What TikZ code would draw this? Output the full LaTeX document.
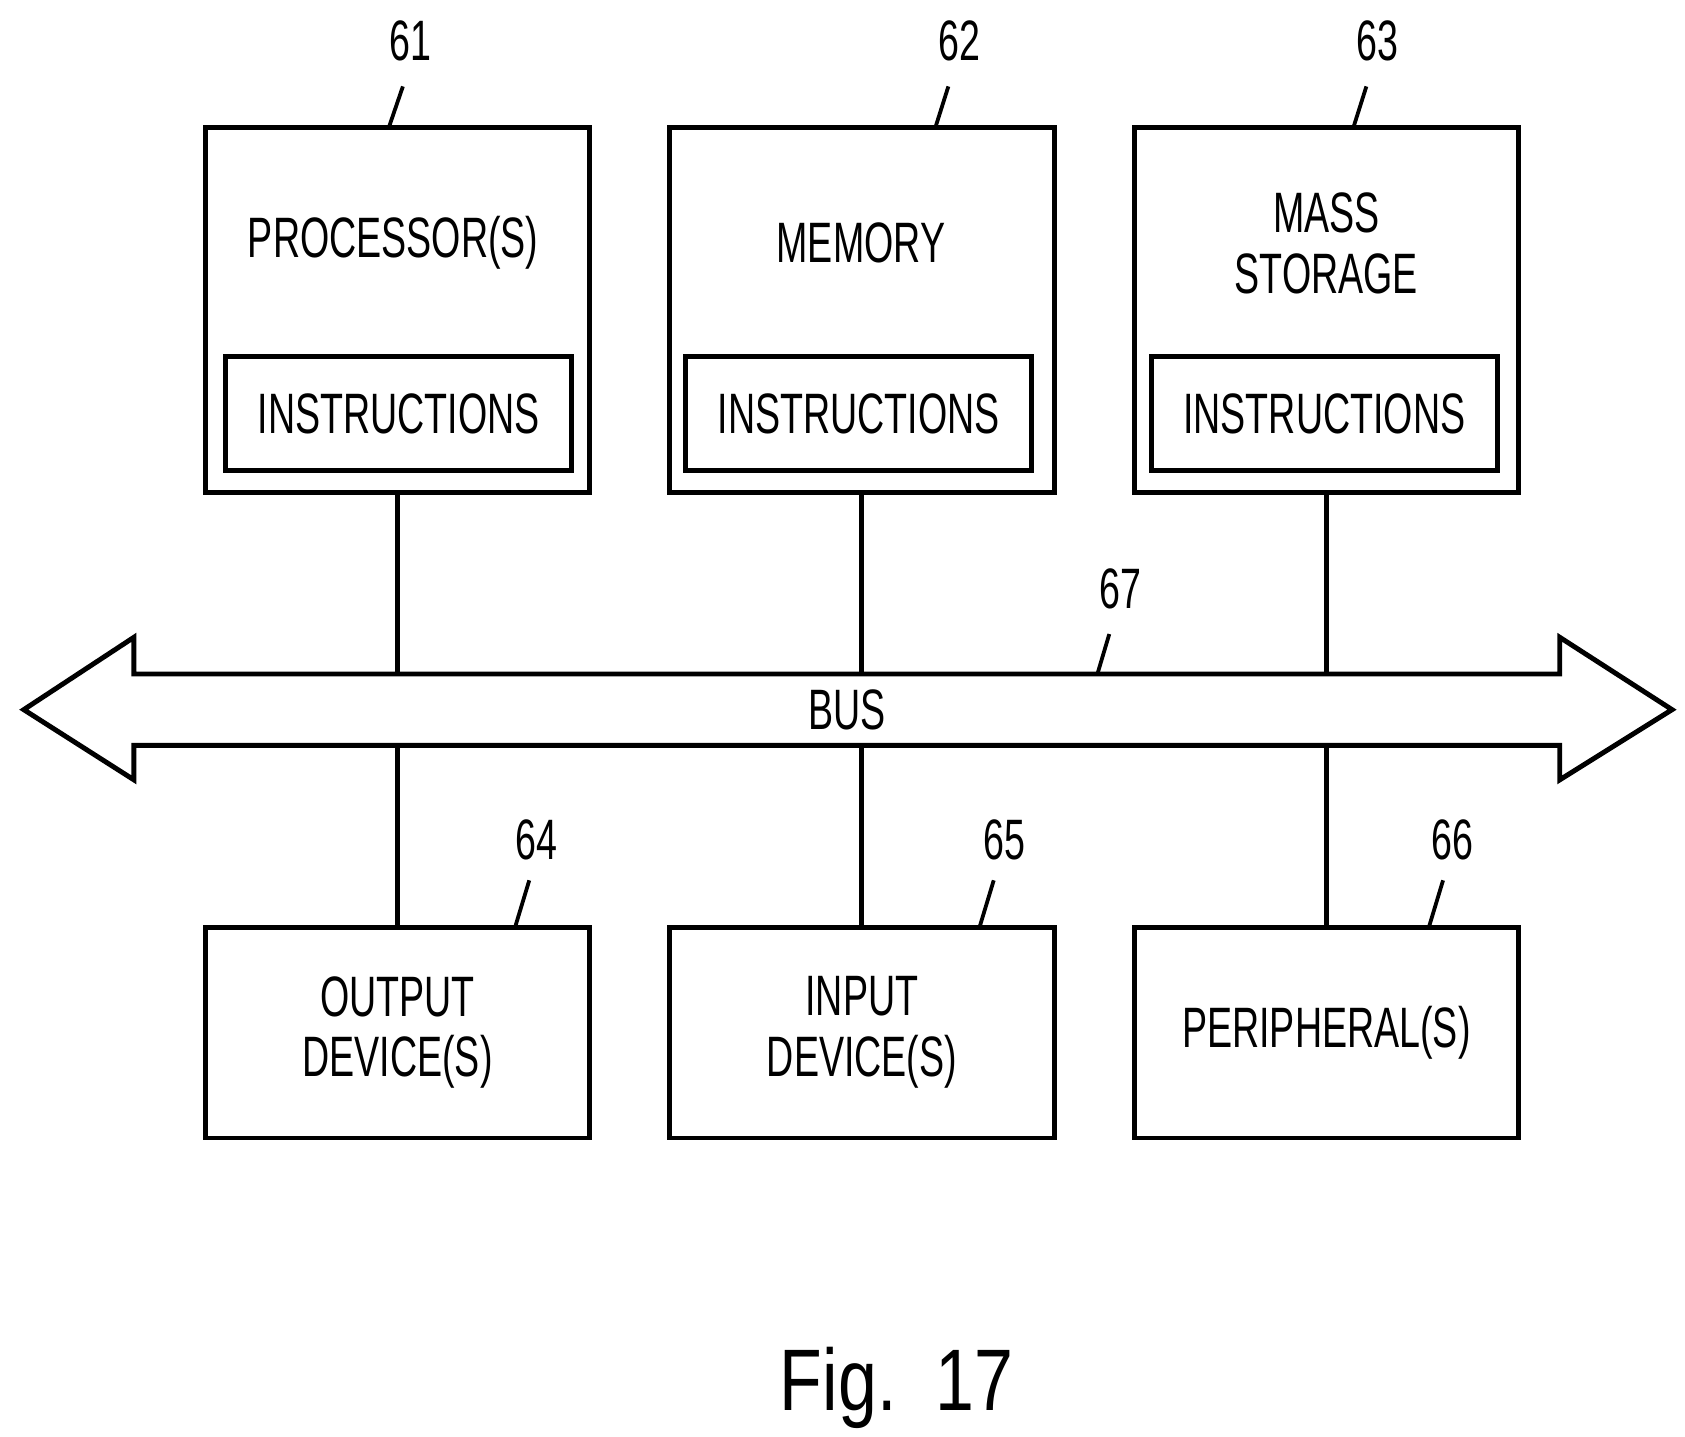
\documentclass[tikz,border=0pt]{standalone}
\usepackage{fontspec}
\setmainfont{Liberation Sans}[FakeStretch=0.66]
\newfontfamily\figfont{Liberation Sans}[FakeStretch=0.8]
\usepackage{tikz}
\usetikzlibrary{positioning}
\tikzstyle{unit}=[draw,line width=1.3pt,inner sep=0pt,minimum width=3.56cm,minimum height=3.38cm]
\tikzstyle{device}=[draw,line width=1.3pt,inner sep=0pt,minimum width=3.56cm,minimum height=1.95cm,align=center]
\tikzstyle{instr}=[draw,line width=1.3pt,inner sep=0pt,minimum width=3.2cm,minimum height=1.05cm]
\tikzstyle{txt}=[font=\fontsize{15}{16}\selectfont,align=center]
\tikzstyle{edge} = [draw,line width=1.3pt,-]
\tikzstyle{lead} = [draw,line width=1pt,-]

\begin{document}
\begin{tikzpicture}[x=0.01cm,y=-0.01cm]
        \useasboundingbox (0,0) rectangle (1560,1330);
        % upper units
        \node[unit] (proc) at (368,287) {};
        \node[unit] (mem) at (798,287) {};
        \node[unit] (mass) at (1228,287) {};
        \node[txt] at (364,225) {PROCESSOR(S)};
        \node[txt] at (797,225) {MEMORY};
        \node[txt] at (1228,225) {MASS\\STORAGE};
        \node[instr,txt] (i1) at (369,383) {INSTRUCTIONS};
        \node[instr,txt] (i2) at (795,383) {INSTRUCTIONS};
        \node[instr,txt] (i3) at (1226,383) {INSTRUCTIONS};
        % lower devices
        \node[device,txt] (out) at (368,956) {OUTPUT\\DEVICE(S)};
        \node[device,txt] (in) at (798,956) {INPUT\\DEVICE(S)};
        \node[device,txt] (per) at (1228,956) {PERIPHERAL(S)};
        % bus
        \draw[line width=1.3pt,line join=miter] (124,624) -- (1444,624) -- (1444,590) -- (1548,657)
          -- (1444,722) -- (1444,690) -- (124,690) -- (124,722) -- (22,657) -- (124,590) -- cycle;
        \node[txt] (bus) at (784,657) {BUS};
        \coordinate (b1) at (368,624);
        \coordinate (b2) at (798,624);
        \coordinate (b3) at (1228,624);
        \coordinate (c1) at (368,690);
        \coordinate (c2) at (798,690);
        \coordinate (c3) at (1228,690);
        \draw[edge] (proc) -- (b1);
        \draw[edge] (mem) -- (b2);
        \draw[edge] (mass) -- (b3);
        \draw[edge] (c1) -- (out);
        \draw[edge] (c2) -- (in);
        \draw[edge] (c3) -- (per);
        % reference numerals
        \node[txt] (n61) at (380,38) {61};
        \node[txt] (n62) at (888,38) {62};
        \node[txt] (n63) at (1275,38) {63};
        \node[txt] (n67) at (1037,545) {67};
        \node[txt] (n64) at (497,778) {64};
        \node[txt] (n65) at (930,778) {65};
        \node[txt] (n66) at (1345,778) {66};
        \draw[lead] (373,80) -- (360,118);
        \draw[lead] (878,80) -- (866,118);
        \draw[lead] (1265,80) -- (1253,118);
        \draw[lead] (1027,587) -- (1016,624);
        \draw[lead] (490,815) -- (477,858);
        \draw[lead] (920,815) -- (907,858);
        \draw[lead] (1336,815) -- (1323,858);
        \node[font=\figfont\fontsize{23}{28}\selectfont] (fig) at (830,1285) {Fig.\ \ 17};
      \end{tikzpicture}
\end{document}
